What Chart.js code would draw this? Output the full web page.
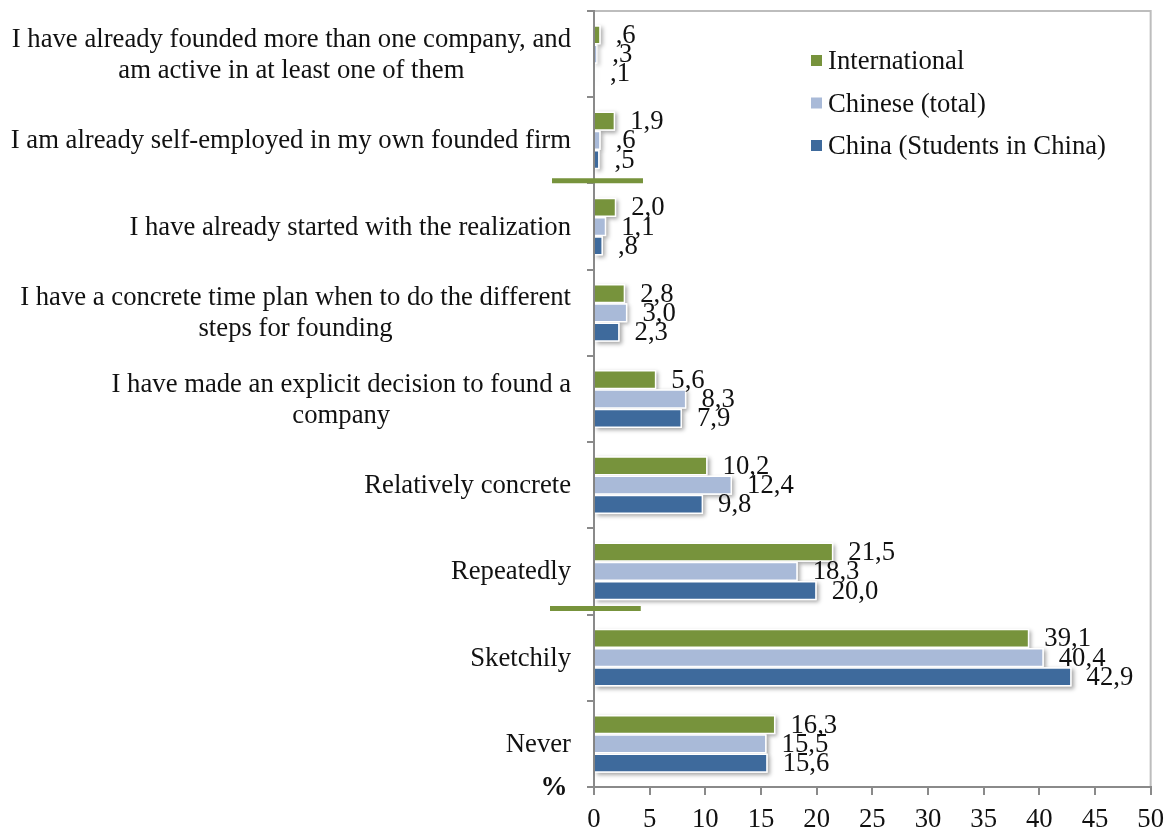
<!DOCTYPE html>
<html>
<head>
<meta charset="utf-8">
<script src="https://cdn.jsdelivr.net/npm/chart.js@4"></script>
<style>
  html, body { margin: 0; padding: 0; background: #fff; }
  #wrap { width: 1173px; height: 830px; }
</style>
</head>
<body>
<div id="wrap"><canvas id="chart" width="1173" height="830"></canvas></div>
<script>
// founding stages, top to bottom
const categories = [
  ['I have already founded more than one company, and', 'am active in at least one of them'],
  ['I am already self-employed in my own founded firm'],
  ['I have already started with the realization'],
  ['I have a concrete time plan when to do the different', 'steps for founding'],
  ['I have made an explicit decision to found a', 'company'],
  ['Relatively concrete'],
  ['Repeatedly'],
  ['Sketchily'],
  ['Never']
];
const international = [0.6, 1.9, 2.0, 2.8, 5.6, 10.2, 21.5, 39.1, 16.3];
const chineseTotal = [0.3, 0.6, 1.1, 3.0, 8.3, 12.4, 18.3, 40.4, 15.5];
const chinaStudents = [0.1, 0.5, 0.8, 2.3, 7.9, 9.8, 20.0, 42.9, 15.6];
const seriesNames = ['International', 'Chinese (total)', 'China (Students in China)'];
const xTicks = [0, 5, 10, 15, 20, 25, 30, 35, 40, 45, 50];

const colors = ['#77933C', '#A9BAD8', '#3E6A9C'];
const FONT = '"Liberation Serif", "Times New Roman", serif';
const FS = 26.7;
const AXIS = '#8A8A8A';

function fmt(v) {
  return v.toFixed(1).replace('.', ',').replace(/^0/, '');
}

// soft drop shadow under every bar, drawn before the bars themselves
const barShadow = {
  id: 'barShadow',
  beforeDatasetsDraw(chart) {
    const ctx = chart.ctx;
    ctx.save();
    ctx.shadowColor = 'rgba(0,0,0,0.35)';
    ctx.shadowBlur = 4;
    ctx.shadowOffsetX = 2;
    ctx.shadowOffsetY = 2;
    ctx.fillStyle = '#fff';
    chart.data.datasets.forEach((ds, i) => {
      chart.getDatasetMeta(i).data.forEach(bar => {
        const p = bar.getProps(['x', 'y', 'base', 'height'], true);
        ctx.fillRect(p.base, p.y - p.height / 2, p.x - p.base, p.height);
      });
    });
    ctx.restore();
  }
};

// value labels, category labels, legend and frame
const decorations = {
  id: 'decorations',
  beforeDraw(chart) {
    const { ctx, chartArea: a } = chart;
    ctx.save();
    ctx.strokeStyle = '#BDBDBD';
    ctx.lineWidth = 2;
    ctx.beginPath();
    ctx.moveTo(a.left, a.top);
    ctx.lineTo(a.right, a.top);
    ctx.lineTo(a.right, a.bottom);
    ctx.stroke();
    ctx.restore();
  },
  afterDatasetsDraw(chart) {
    const ctx = chart.ctx;
    ctx.save();
    ctx.font = FS + 'px ' + FONT;
    ctx.fillStyle = '#111';
    ctx.textAlign = 'left';
    ctx.textBaseline = 'middle';
    chart.data.datasets.forEach((ds, i) => {
      chart.getDatasetMeta(i).data.forEach((bar, j) => {
        ctx.fillText(fmt(ds.data[j]), bar.x + 15, bar.y + 1);
      });
    });
    ctx.restore();
  },
  afterDraw(chart) {
    const { ctx, chartArea: a, scales: { x, y } } = chart;
    ctx.save();

    // category labels, each block right-aligned, its lines centred
    ctx.font = FS + 'px ' + FONT;
    ctx.fillStyle = '#111';
    ctx.textAlign = 'center';
    ctx.textBaseline = 'middle';
    const lh = 31;
    categories.forEach((lines, i) => {
      const w = Math.max(...lines.map(l => ctx.measureText(l).width));
      const cx = a.left - 23 - w / 2;
      const cy = y.getPixelForValue(i) - (lines.length - 1) * lh / 2 + 1;
      lines.forEach((l, k) => ctx.fillText(l, cx, cy + k * lh));
    });

    // unit marker
    ctx.font = 'bold 27px ' + FONT;
    ctx.fillText('%', a.left - 40, a.bottom + 1);

    // stray green strokes crossing the axis
    ctx.strokeStyle = colors[0];
    ctx.lineWidth = 5;
    ctx.beginPath();
    ctx.moveTo(a.left - 42, y.getPixelForValue(1.47));
    ctx.lineTo(x.getPixelForValue(4.4), y.getPixelForValue(1.47));
    ctx.moveTo(a.left - 44, y.getPixelForValue(6.43));
    ctx.lineTo(x.getPixelForValue(4.2), y.getPixelForValue(6.43));
    ctx.stroke();

    // legend
    ctx.font = FS + 'px ' + FONT;
    ctx.textAlign = 'left';
    seriesNames.forEach((name, i) => {
      const ly = a.top + 50 + i * 42.5;
      ctx.fillStyle = colors[i];
      ctx.fillRect(a.left + 217, ly - 6, 11, 11);
      ctx.fillStyle = '#111';
      ctx.fillText(name, a.left + 234, ly + 1);
    });
    ctx.restore();
  }
};

const seriesData = [international, chineseTotal, chinaStudents];

new Chart(document.getElementById('chart'), {
  type: 'bar',
  data: {
    labels: categories.map(c => c.join(' ')),
    datasets: seriesNames.map((name, i) => ({
      label: name,
      data: seriesData[i],
      backgroundColor: colors[i],
      borderColor: '#fff',
      borderWidth: 1.5,
      categoryPercentage: 0.67,
      barPercentage: 1.0
    }))
  },
  options: {
    indexAxis: 'y',
    responsive: false,
    animation: false,
    layout: { padding: { top: 11, right: 20, left: 0, bottom: 0 } },
    plugins: {
      legend: { display: false },
      tooltip: { enabled: false }
    },
    scales: {
      x: {
        min: 0,
        max: 50,
        afterBuildTicks(scale) {
          scale.ticks = xTicks.map(v => ({ value: v }));
        },
        afterFit(scale) { scale.height = 43; },
        border: { display: true, color: AXIS, width: 2 },
        grid: { drawOnChartArea: false, drawTicks: true, tickLength: 8, color: AXIS, lineWidth: 2 },
        ticks: {
          padding: 9,
          color: '#111',
          font: { family: FONT, size: FS },
          maxRotation: 0
        }
      },
      y: {
        afterFit(scale) { scale.width = 594; },
        border: { display: true, color: AXIS, width: 2 },
        grid: { offset: true, drawOnChartArea: false, drawTicks: true, tickLength: 7, color: AXIS, lineWidth: 2 },
        ticks: { display: false }
      }
    }
  },
  plugins: [barShadow, decorations]
});
</script>
</body>
</html>
